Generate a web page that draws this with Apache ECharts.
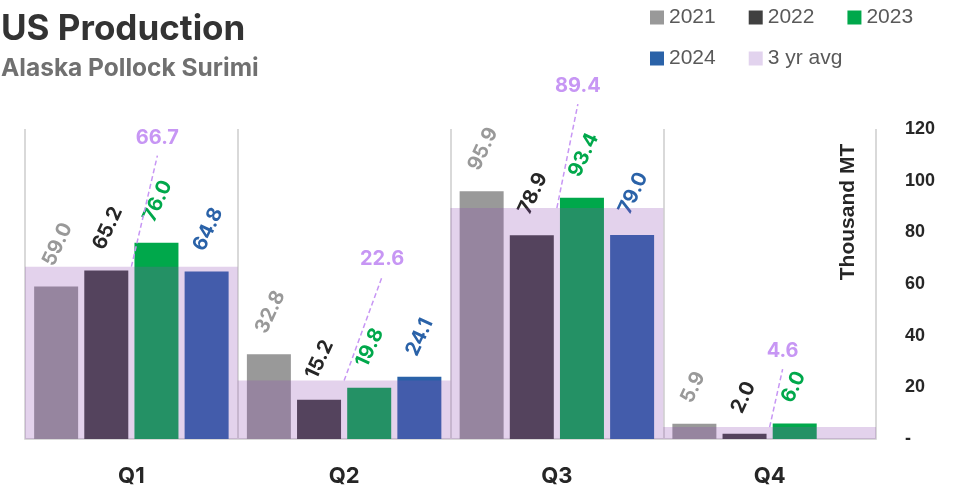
<!DOCTYPE html>
<html>
<head>
<meta charset="utf-8">
<script src="https://cdn.jsdelivr.net/npm/echarts@6/dist/echarts.min.js"></script>
<style>
  html, body { margin: 0; padding: 0; background: #ffffff; }
  #chart { width: 963px; height: 491px; }
</style>
</head>
<body>
<div id="chart"></div>
<script>
// Quarterly US surimi production, thousand metric tons
const quarters = ['Q1', 'Q2', 'Q3', 'Q4'];
const years = ['2021', '2022', '2023', '2024'];
const prod2021 = [59.0, 32.8, 95.9, 5.9];
const prod2022 = [65.2, 15.2, 78.9, 2.0];
const prod2023 = [76.0, 19.8, 93.4, 6.0];
const prod2024 = [64.8, 24.1, 79.0, null];
const avg3yr = [66.7, 22.6, 89.4, 4.6];
const yTicks = [0, 20, 40, 60, 80, 100, 120];

const yearData = [prod2021, prod2022, prod2023, prod2024];
const barColors = ['#999999', '#404040', '#00A84B', '#2A62A8'];
const labelColors = ['#999999', '#262626', '#00A84B', '#2A62A8'];
const avgFill = 'rgba(145, 76, 180, 0.25)';
const avgLabelColor = '#C796F4';
// where each average label sits, relative to the top centre of its band (px)
const avgLabelShift = [[26, -129], [38, -122], [21, -122], [13, -76]];

const numFont = 'Inter, "Liberation Sans", Arial, sans-serif';
const arialFont = '"Liberation Sans", Arial, sans-serif';

// Value labels are rotated 65°; the label offset is applied in the rotated
// frame, so convert a horizontal nudge on screen into that frame.
const labelAngle = 65;
const nudgeX = -8;
const rad = labelAngle * Math.PI / 180;
const labelOffset = [nudgeX * Math.cos(rad), nudgeX * Math.sin(rad)];

const chart = echarts.init(document.getElementById('chart'), null, { renderer: 'canvas' });

const barSeries = years.map((y, k) => ({
  name: y,
  type: 'bar',
  z: 2,
  barWidth: 44,
  barGap: '14%',
  data: yearData[k],
  itemStyle: { color: barColors[k] },
  label: {
    show: true,
    position: 'top',
    distance: 22,
    rotate: labelAngle,
    align: 'left',
    verticalAlign: 'middle',
    offset: labelOffset,
    color: labelColors[k],
    fontFamily: numFont,
    fontWeight: 'bold',
    fontSize: 20,
    formatter: p => (p.value == null ? '' : Number(p.value).toFixed(1))
  }
}));

// Translucent band spanning the whole quarter, up to the 3-year average
const avgBand = {
  name: '3 yr avg',
  type: 'custom',
  z: 3,
  itemStyle: { color: avgFill },
  data: avg3yr.map((v, i) => [i, v]),
  encode: { x: 0, y: 1 },
  renderItem: (params, api) => {
    const i = api.value(0);
    const top = api.coord([i, api.value(1)]);
    const base = api.coord([i, 0]);
    const w = api.size([1, 0])[0];
    return {
      type: 'rect',
      shape: { x: top[0] - w / 2, y: top[1], width: w, height: base[1] - top[1] },
      style: { fill: avgFill }
    };
  }
};

// Average value labels with dashed leader lines
const avgLabels = {
  name: 'avgLabels',
  type: 'custom',
  z: 5,
  silent: true,
  data: avg3yr.map((v, i) => [i, v]),
  encode: { x: 0, y: 1 },
  renderItem: (params, api) => {
    const i = api.value(0);
    const v = api.value(1);
    const p = api.coord([i, v]);
    const s = avgLabelShift[params.dataIndex];
    const lx = p[0] + s[0];
    const ly = p[1] + s[1];
    return {
      type: 'group',
      children: [
        {
          type: 'line',
          shape: { x1: p[0], y1: p[1], x2: lx, y2: ly + 18 },
          style: { stroke: avgLabelColor, lineWidth: 1.5, lineDash: [5, 3] }
        },
        {
          type: 'text',
          x: lx, y: ly,
          style: {
            text: v.toFixed(1),
            fill: avgLabelColor,
            font: 'bold 20px ' + numFont,
            align: 'center',
            verticalAlign: 'middle'
          }
        }
      ]
    };
  }
};

const legendText = { color: '#595959', fontSize: 21, fontFamily: arialFont };

chart.setOption({
  animation: false,
  grid: { left: 25, right: 87, top: 129, bottom: 52, containLabel: false },
  legend: [
    {
      data: ['2021', '2022', '2023'],
      left: 645, top: 2,
      icon: 'rect', itemWidth: 14, itemHeight: 14, itemGap: 33,
      textStyle: legendText
    },
    {
      data: ['2024', { name: '3 yr avg', itemStyle: { color: '#E2D3EE' } }],
      left: 645, top: 43,
      icon: 'rect', itemWidth: 14, itemHeight: 14, itemGap: 33,
      textStyle: legendText
    }
  ],
  xAxis: {
    type: 'category',
    data: quarters,
    axisLine: { show: true, lineStyle: { color: '#D9D9D9', width: 2 } },
    axisTick: { show: false },
    splitLine: { show: true, interval: 0, lineStyle: { color: '#D9D9D9', width: 2 } },
    axisLabel: {
      margin: 26,
      color: '#262626',
      fontFamily: numFont,
      fontWeight: 'bold',
      fontSize: 22
    }
  },
  yAxis: {
    type: 'value',
    position: 'right',
    min: yTicks[0],
    max: yTicks[yTicks.length - 1],
    interval: yTicks[1] - yTicks[0],
    axisLine: { show: false },
    axisTick: { show: false },
    splitLine: { show: false },
    axisLabel: {
      margin: 29,
      color: '#262626',
      fontFamily: arialFont,
      fontWeight: 'bold',
      fontSize: 18,
      formatter: v => (v === 0 ? '-' : String(v))
    }
  },
  graphic: [
    {
      type: 'text', left: 1, top: 12,
      style: { text: 'US Production', fill: '#333333', font: 'bold 35px ' + numFont }
    },
    {
      type: 'text', left: 1, top: 56,
      style: { text: 'Alaska Pollock Surimi', fill: '#707070', font: 'bold 24.5px ' + numFont }
    },
    {
      type: 'text', x: 848, y: 212, rotation: Math.PI / 2,
      style: {
        text: 'Thousand MT', fill: '#262626', font: 'bold 21px ' + arialFont,
        align: 'center', verticalAlign: 'middle'
      }
    }
  ],
  series: [...barSeries, avgBand, avgLabels]
});
</script>
</body>
</html>
